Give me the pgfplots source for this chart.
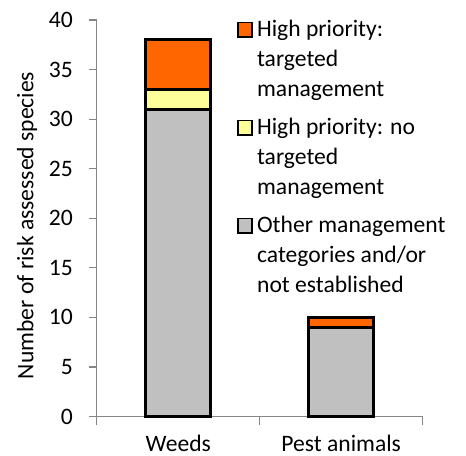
\documentclass[border=0pt]{standalone}
\usepackage{pgfplots}
\pgfplotsset{compat=1.18}
\usepackage{fontspec}
\setmainfont{Carlito}
\definecolor{orng}{HTML}{FF6600}
\definecolor{ylw}{HTML}{FFFF99}
\definecolor{gry}{HTML}{C0C0C0}
\definecolor{axgray}{HTML}{868686}
\newcommand{\fnt}{\fontsize{11.8}{15}\selectfont}
\newcommand{\legtxt}[1]{\begin{tabular}[t]{@{}l@{}}#1\end{tabular}}
\begin{document}
\begin{tikzpicture}[font=\fnt]
\begin{axis}[
  scale only axis, width=163pt, height=198.3pt,
  ybar stacked, bar width=32.5pt,
  xmin=0.5, xmax=2.5, ymin=0, ymax=40,
  xtick={0.5,1.5,2.5}, xticklabels={},
  extra x ticks={1,2}, extra x tick labels={Weeds,Pest animals},
  extra x tick style={major tick length=0pt},
  ytick={0,5,...,40},
  axis x line*=bottom, axis y line*=left,
  axis line style={axgray, line width=0.6pt},
  tick style={axgray, line width=0.6pt},
  tick align=outside, major tick length=4pt,
  /pgf/number format/assume math mode=true,
  ticklabel style={font=\fnt, text=black},
  yticklabel style={xshift=-4.5pt},
  xticklabel style={yshift=-6pt},
  ylabel={Number of risk assessed species},
  ylabel style={at={(ticklabel cs:0.482)}},
  ylabel shift=-1pt,
  label style={font=\fnt},
  clip=false,
  reverse legend,
  legend cell align=left,
  legend image code/.code={\draw[#1, line width=0.8pt] (0.4pt,-0.3pt) rectangle (7.4pt,6.9pt);},
  legend style={at={(rel axis cs:0.4294,1.0126)}, anchor=north west, draw=none, fill=none,
    inner sep=0pt, row sep=37pt, column sep=2.2pt,
    font=\fnt,
    /tikz/every even column/.append style={nodes={anchor=base west, inner sep=0pt}}},
]
\addplot[fill=gry, draw=black, line width=1.4pt] coordinates {(1,31) (2,9)};
\addlegendentry{\legtxt{Other management\\categories and/or\\not established}}
\addplot[fill=ylw, draw=black, line width=1.4pt] coordinates {(1,2) (2,0)};
\addlegendentry{\legtxt{High priority: no\\targeted\\management}}
\addplot[fill=orng, draw=black, line width=1.4pt] coordinates {(1,5) (2,1)};
\addlegendentry{\legtxt{High priority:\\targeted\\management}}
\end{axis}
\pgfresetboundingbox
\path ([shift={(-48.4pt,-19.65pt)}]current axis.south west) rectangle ([shift={(21.65pt,10pt)}]current axis.north east);
\end{tikzpicture}
\end{document}
